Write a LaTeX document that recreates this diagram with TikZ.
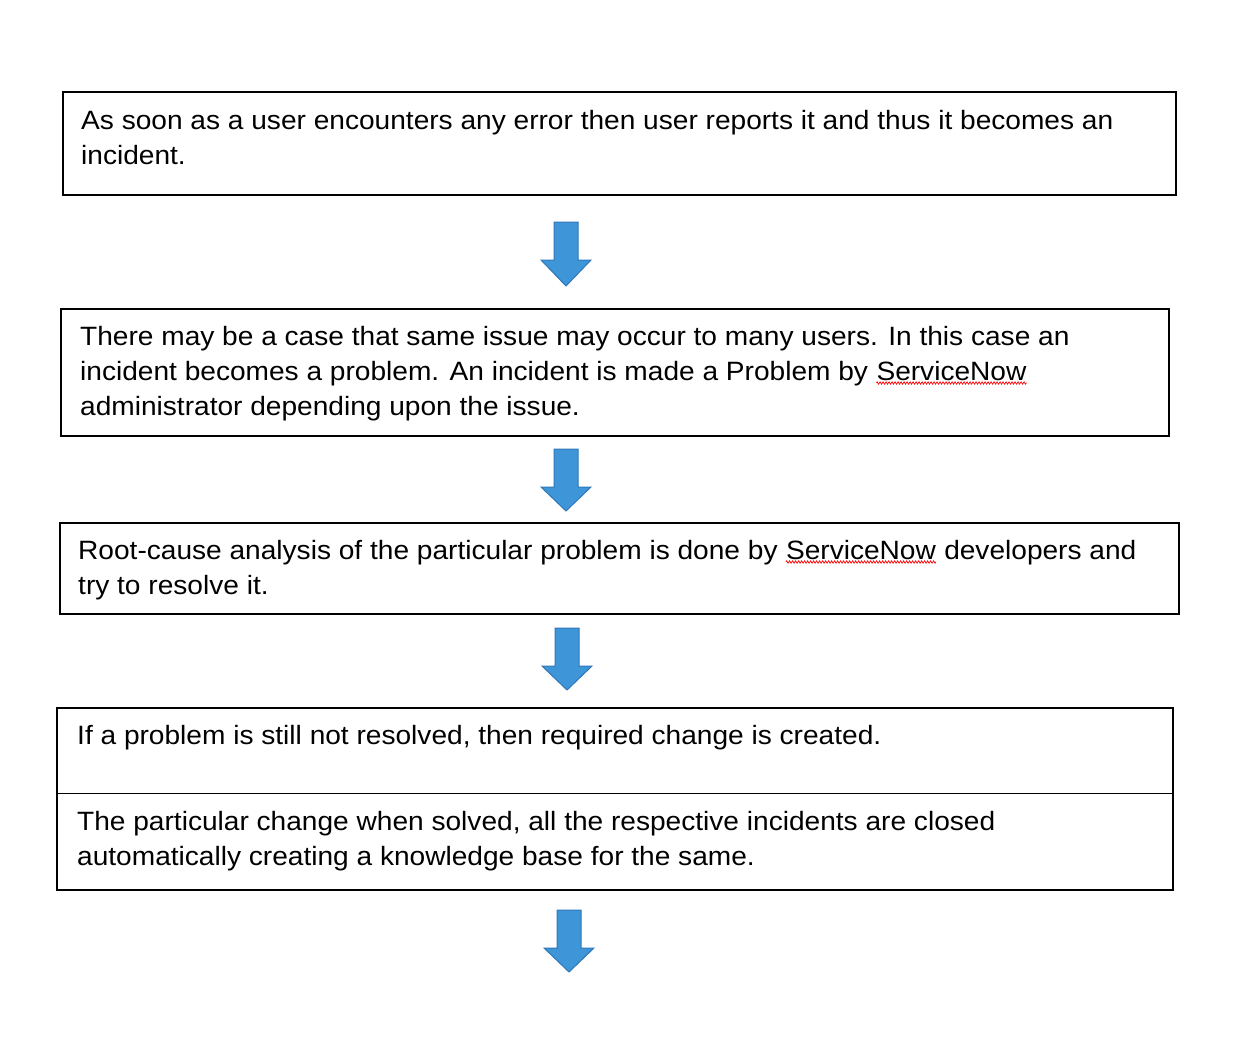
\documentclass[tikz,border=0pt]{standalone}
\usepackage{fontspec}
\setmainfont{Liberation Sans}[FakeStretch=1.06]
\usetikzlibrary{decorations.pathmorphing}
\definecolor{arrfill}{HTML}{3E95D8}
\definecolor{arrdraw}{HTML}{2F78B8}
\newcommand{\spellmark}[1]{\tikz[baseline=(w.base),x=1pt,y=1pt]{\node[inner sep=0pt] (w) {#1};
  \draw[red, line width=0.7pt, decorate, decoration={zigzag, amplitude=1.2pt, segment length=3pt}] ([yshift=-3pt]w.base west) -- ([yshift=-3pt]w.base east);}}
\tikzset{
  box/.style={draw=black, line width=1.3pt},
  txt/.style={anchor=base west, inner sep=0pt, font=\fontsize{26.5}{35}\selectfont},
  downarrow/.style={fill=arrfill, draw=arrdraw, line width=1pt}
}
\newcommand{\downarr}[3]{% center x, top y, bottom y
  \draw[downarrow] (#1-12,#2) -- (#1+12,#2) -- (#1+12,#2+38) -- (#1+25,#2+38) -- (#1,#3) -- (#1-25,#2+38) -- (#1-12,#2+38) -- cycle;}
\begin{document}
\begin{tikzpicture}[x=1pt,y=-1pt]
\useasboundingbox (0,0) rectangle (1240,1039);
\draw[box] (63,92) rectangle (1176,195);
\node[txt] (t1a) at (81,129) {As soon as a user encounters any error then user reports it and thus it becomes an};
\node[txt] (t1b) at (81,164) {incident.};
\downarr{566}{222}{286}
\draw[box] (61,309) rectangle (1169,436);
\node[txt] (t2a) at (80,345) {There may be a case that same issue may occur to many users. In this case an};
\node[txt] (t2b) at (80,380) {incident becomes a problem. An incident is made a Problem by \spellmark{ServiceNow}};
\node[txt] (t2c) at (80,415) {administrator depending upon the issue.};
\downarr{566}{449}{511}
\draw[box] (60,523) rectangle (1179,614);
\node[txt] (t3a) at (78,559) {Root-cause analysis of the particular problem is done by \spellmark{ServiceNow} developers and};
\node[txt] (t3b) at (78,594) {try to resolve it.};
\downarr{567}{628}{690}
\draw[box] (57,708) rectangle (1173,890);
\draw[line width=1pt] (57,793) -- (1173,793);
\node[txt] (t4a) at (77,744) {If a problem is still not resolved, then required change is created.};
\node[txt] (t5a) at (77,830) {The particular change when solved, all the respective incidents are closed};
\node[txt] (t5b) at (77,865) {automatically creating a knowledge base for the same.};
\downarr{569}{910}{972}
\end{tikzpicture}
\end{document}
